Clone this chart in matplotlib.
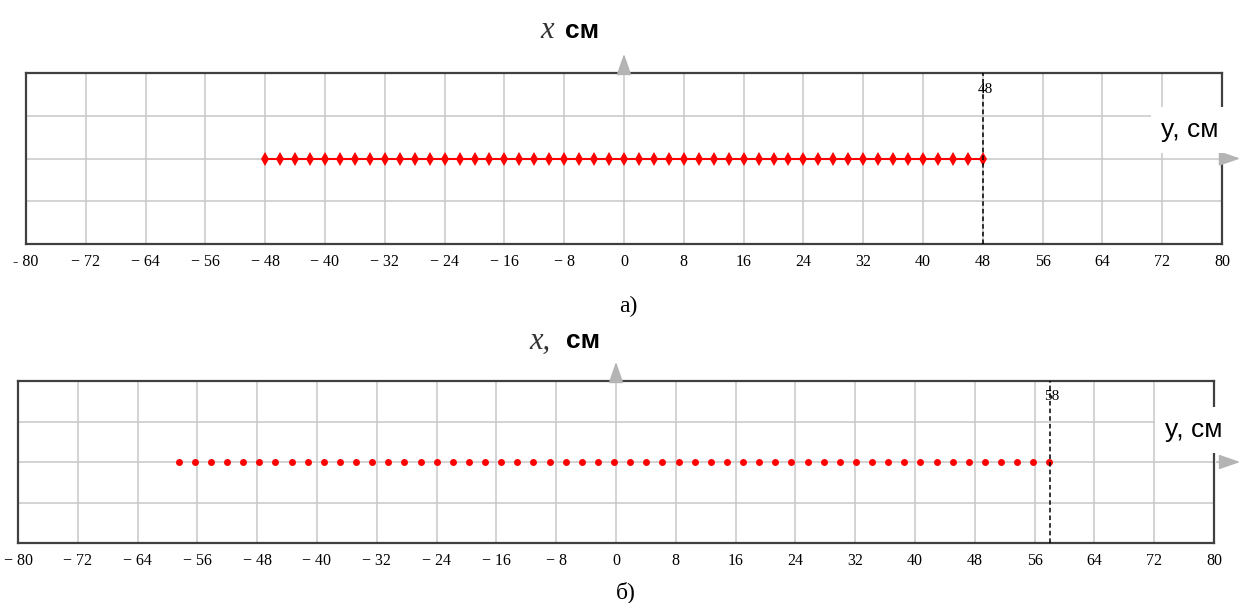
import matplotlib.pyplot as plt

W, H = 1239, 603

# panel а): positions along y, cm
y_a = [-48, -46, -44, -42, -40, -38, -36, -34, -32, -30, -28, -26, -24, -22, -20,
       -18, -16, -14, -12, -10, -8, -6, -4, -2, 0, 2, 4, 6, 8, 10, 12, 14, 16, 18,
       20, 22, 24, 26, 28, 30, 32, 34, 36, 38, 40, 42, 44, 46, 48]
x_a = [0] * len(y_a)
edge_a = 48

# panel б): positions along y, cm
y_b = [-58.50, -56.34, -54.19, -52.03, -49.87, -47.72, -45.56, -43.40, -41.24,
       -39.09, -36.93, -34.77, -32.62, -30.46, -28.30, -26.15, -23.99, -21.83,
       -19.67, -17.52, -15.36, -13.20, -11.05, -8.89, -6.73, -4.58, -2.42, -0.26,
       1.90, 4.05, 6.21, 8.37, 10.52, 12.68, 14.84, 17.00, 19.15, 21.31, 23.47,
       25.62, 27.78, 29.94, 32.09, 34.25, 36.41, 38.57, 40.72, 42.88, 45.04,
       47.19, 49.35, 51.51, 53.66, 55.82, 57.98]
x_b = [0] * len(y_b)
edge_b = 58

ticks = [-80, -72, -64, -56, -48, -40, -32, -24, -16, -8, 0, 8, 16, 24, 32, 40, 48, 56, 64, 72, 80]
labels_a = ["- 80", "− 72", "− 64", "− 56", "− 48", "− 40", "− 32", "− 24", "− 16", "− 8",
            "0", "8", "16", "24", "32", "40", "48", "56", "64", "72", "80"]
labels_b = ["− 80", "− 72", "− 64", "− 56", "− 48", "− 40", "− 32", "− 24", "− 16", "− 8",
            "0", "8", "16", "24", "32", "40", "48", "56", "64", "72", "80"]

GRID = "#c8c8c8"
ARROW = "#b4b4b4"


def fx(px):
    return px / W


def fy(py):
    return 1 - py / H


def panel(rect, ys, xs, edge, labels, style):
    l, t, r, b = rect
    ax = fig.add_axes([fx(l), fy(b), fx(r) - fx(l), fy(t) - fy(b)])
    ax.set_xlim(-80, 80)
    ax.set_ylim(-2, 2)
    ax.set_xticks(ticks)
    ax.set_xticklabels(labels, family="Liberation Serif", fontsize=11.5)
    ax.set_yticks([-1, 0, 1])
    ax.set_yticklabels([])
    ax.tick_params(length=0, pad=7)
    ax.grid(True, color=GRID, lw=1.1)
    for s in ax.spines.values():
        s.set_color("#404040")
        s.set_linewidth(1.6)
    if style == "a":
        ax.plot(ys, xs, color="red", lw=1.5, marker="d", ms=7, mew=0, zorder=3)
    else:
        ax.plot(ys, xs, ls="none", color="red", marker="o", ms=5, mew=0, zorder=3)
    ax.axvline(edge, color="black", ls=(0, (3, 2)), lw=1.1, zorder=4)
    ax.text(edge + 0.3, 1.62, str(edge), family="Liberation Serif", fontsize=11,
            ha="center", va="center", zorder=5)
    # axis arrows
    ax.annotate("", xy=(0, 1 + 22 / (b - t)), xycoords=("data", "axes fraction"),
                xytext=(0, 1), textcoords=("data", "axes fraction"),
                arrowprops=dict(arrowstyle="-|>,head_length=1.3,head_width=0.45",
                                color=ARROW, lw=1.2), annotation_clip=False)
    ax.annotate("", xy=(1 + (W + 4 - r) / (r - l), 0), xycoords=("axes fraction", "data"),
                xytext=(1, 0), textcoords=("axes fraction", "data"),
                arrowprops=dict(arrowstyle="-|>,head_length=1.3,head_width=0.45",
                                color=ARROW, lw=1.2), annotation_clip=False)
    return ax


fig = plt.figure(figsize=(W / 100, H / 100), dpi=100)

panel((26, 73, 1222, 244), y_a, x_a, edge_a, labels_a, "a")
panel((18, 381, 1214, 543), y_b, x_b, edge_b, labels_b, "b")

# axis titles
fig.text(fx(547), fy(31), "x", family="Liberation Serif", style="italic",
         fontsize=22, color="#333333", ha="center", va="center")
fig.text(fx(565), fy(31), "см", family="Liberation Sans", weight="bold",
         fontsize=19, ha="left", va="center")
fig.text(fx(540), fy(341), "x,", family="Liberation Serif", style="italic",
         fontsize=22, color="#333333", ha="center", va="center")
fig.text(fx(566), fy(341), "см", family="Liberation Sans", weight="bold",
         fontsize=19, ha="left", va="center")

fig.text(fx(1190), fy(130), "y, см", family="Liberation Sans", fontsize=19,
         ha="center", va="center",
         bbox=dict(boxstyle="square,pad=0.4", fc="white", ec="none"))
fig.text(fx(1194), fy(430), "y, см", family="Liberation Sans", fontsize=19,
         ha="center", va="center",
         bbox=dict(boxstyle="square,pad=0.4", fc="white", ec="none"))

# captions
fig.text(fx(628), fy(306), "а)", family="Liberation Serif", fontsize=17,
         ha="center", va="center")
fig.text(fx(626), fy(592), "б)", family="Liberation Serif", fontsize=17,
         ha="center", va="center")

fig.savefig("out.png", dpi=100)
